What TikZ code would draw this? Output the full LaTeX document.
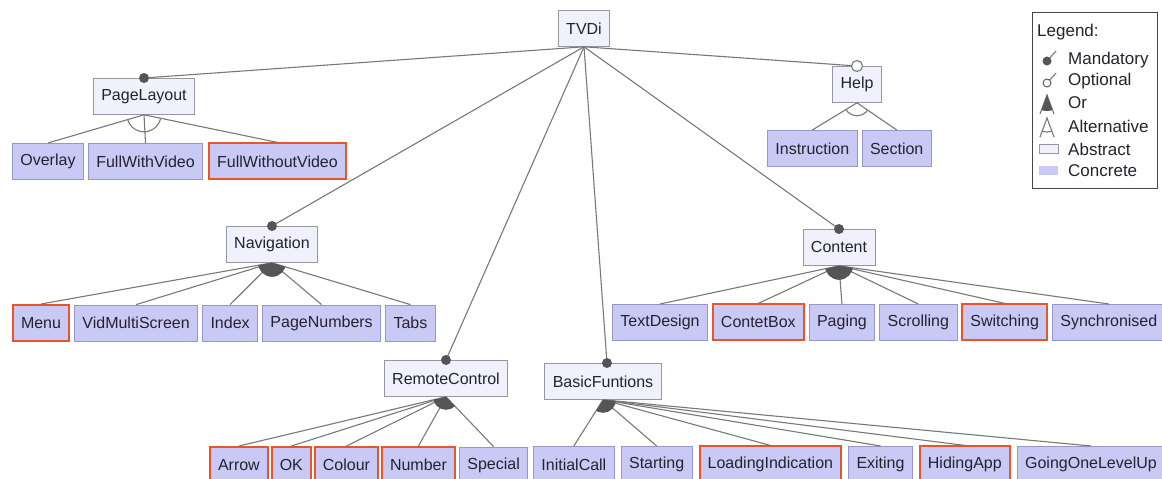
\documentclass[tikz,border=0pt]{standalone}
\usepackage{fontspec}
\setmainfont{Liberation Sans}
\definecolor{confill}{RGB}{201,201,246}
\definecolor{conline}{RGB}{150,150,200}
\definecolor{absfill}{RGB}{241,241,253}
\definecolor{absline}{RGB}{150,150,165}
\definecolor{selred}{RGB}{232,84,44}
\definecolor{linkgray}{RGB}{120,120,120}
\definecolor{dotgray}{RGB}{85,85,85}
\definecolor{txt}{RGB}{35,35,45}
\definecolor{legline}{RGB}{70,70,70}
\begin{document}
\begin{tikzpicture}[x=1pt,y=-1pt,
  feat/.style={draw, rectangle, minimum height=36pt, inner xsep=8pt, inner ysep=0pt,
    text=txt, font=\fontsize{16}{19}\selectfont, line width=0.8pt},
  abstractf/.style={feat, fill=absfill, draw=absline},
  concretef/.style={feat, fill=confill, draw=conline},
  chosen/.style={draw=selred, line width=2pt},
  link/.style={draw=linkgray, line width=1.1pt},
  legtext/.style={anchor=west, inner sep=0pt, text=txt, font=\fontsize{17}{20}\selectfont},
]
\useasboundingbox (0,0) rectangle (1162,479);

% ---------- feature boxes ----------
\node[abstractf, anchor=north] (tvdi) at (584,10) {TVDi};

\node[abstractf, anchor=north] (pagelayout) at (144,78) {PageLayout};
\node[concretef, anchor=north west] (overlay) at (12,143) {Overlay};
\node[concretef, anchor=west] (fullwithvideo) at ([xshift=4pt]overlay.east) {FullWithVideo};
\node[concretef, chosen, anchor=west] (fullwithoutvideo) at ([xshift=5pt]fullwithvideo.east) {FullWithoutVideo};

\node[abstractf, anchor=north] (help) at (857,66) {Help};
\node[concretef, anchor=north west] (instruction) at (767,130) {Instruction};
\node[concretef, anchor=west] (section) at ([xshift=4pt]instruction.east) {Section};

\node[abstractf, anchor=north] (navigation) at (272,226) {Navigation};
\node[concretef, chosen, anchor=north west] (menu) at (12,304) {Menu};
\node[concretef, anchor=west] (vidmulti) at ([xshift=4pt]menu.east) {VidMultiScreen};
\node[concretef, anchor=west] (index) at ([xshift=4pt]vidmulti.east) {Index};
\node[concretef, anchor=west] (pagenumbers) at ([xshift=4pt]index.east) {PageNumbers};
\node[concretef, anchor=west] (tabs) at ([xshift=4pt]pagenumbers.east) {Tabs};

\node[abstractf, anchor=north] (content) at (839,229) {Content};
\node[concretef, anchor=north west] (textdesign) at (612,304) {TextDesign};
\node[concretef, chosen, anchor=west] (contetbox) at ([xshift=4pt]textdesign.east) {ContetBox};
\node[concretef, anchor=west] (paging) at ([xshift=4pt]contetbox.east) {Paging};
\node[concretef, anchor=west] (scrolling) at ([xshift=4pt]paging.east) {Scrolling};
\node[concretef, chosen, anchor=west] (switching) at ([xshift=4pt]scrolling.east) {Switching};
\node[concretef, anchor=west] (synchronised) at ([xshift=4pt]switching.east) {Synchronised};

\node[abstractf, anchor=north] (remotecontrol) at (446,360) {RemoteControl};
\node[concretef, chosen, anchor=north west] (arrow) at (209,446) {Arrow};
\node[concretef, chosen, anchor=west] (ok) at ([xshift=2pt]arrow.east) {OK};
\node[concretef, chosen, anchor=west] (colour) at ([xshift=2pt]ok.east) {Colour};
\node[concretef, chosen, anchor=west] (number) at ([xshift=2pt]colour.east) {Number};
\node[concretef, anchor=west] (special) at ([xshift=3pt]number.east) {Special};

\node[abstractf, anchor=north] (basicfuntions) at (603,363) {BasicFuntions};
\node[concretef, anchor=north west] (initialcall) at (533,446) {InitialCall};
\node[concretef, anchor=west] (starting) at ([xshift=6pt]initialcall.east) {Starting};
\node[concretef, chosen, anchor=west] (loadingindication) at ([xshift=6pt]starting.east) {LoadingIndication};
\node[concretef, anchor=west] (exiting) at ([xshift=6pt]loadingindication.east) {Exiting};
\node[concretef, chosen, anchor=west] (hidingapp) at ([xshift=6pt]exiting.east) {HidingApp};
\node[concretef, anchor=west] (goingonelevelup) at ([xshift=6pt]hidingapp.east) {GoingOneLevelUp};

\coordinate (bftop) at ([xshift=4pt]basicfuntions.north);

% ---------- root connections ----------
\foreach \c in {pagelayout.north,navigation.north,remotecontrol.north,bftop,content.north,help.north}
  \draw[link] (tvdi.south) -- (\c);

% ---------- alternative groups ----------
\foreach \c in {overlay,fullwithvideo,fullwithoutvideo}
  \draw[link] (pagelayout.south) -- (\c.north);
\begin{scope}
  \clip (pagelayout.south) -- (overlay.north) -- (fullwithoutvideo.north) -- cycle;
  \draw[link] (pagelayout.south) circle (17pt);
\end{scope}

\foreach \c in {instruction,section}
  \draw[link] (help.south) -- (\c.north);
\begin{scope}
  \clip (help.south) -- (instruction.north) -- (section.north) -- cycle;
  \draw[link] (help.south) circle (13pt);
\end{scope}

% ---------- or groups ----------
\foreach \c in {menu,vidmulti,index,pagenumbers,tabs}
  \draw[link] (navigation.south) -- (\c.north);
\begin{scope}
  \clip (navigation.south) -- (menu.north) -- (tabs.north) -- cycle;
  \fill[dotgray] (navigation.south) circle (14pt);
\end{scope}

\foreach \c in {textdesign,contetbox,paging,scrolling,switching,synchronised}
  \draw[link] (content.south) -- (\c.north);
\begin{scope}
  \clip (content.south) -- (textdesign.north) -- (synchronised.north) -- cycle;
  \fill[dotgray] (content.south) circle (14pt);
\end{scope}

\foreach \c in {arrow,ok,colour,number,special}
  \draw[link] (remotecontrol.south) -- (\c.north);
\begin{scope}
  \clip (remotecontrol.south) -- (arrow.north) -- (special.north) -- cycle;
  \fill[dotgray] (remotecontrol.south) circle (13pt);
\end{scope}

\foreach \c in {initialcall,starting,loadingindication,exiting,hidingapp,goingonelevelup}
  \draw[link] (basicfuntions.south) -- (\c.north);
\begin{scope}
  \clip (basicfuntions.south) -- (initialcall.north) -- (goingonelevelup.north) -- cycle;
  \fill[dotgray] (basicfuntions.south) circle (13pt);
\end{scope}

% ---------- mandatory / optional markers ----------
\foreach \c in {pagelayout.north,navigation.north,remotecontrol.north,bftop,content.north}
  \fill[dotgray] (\c) circle (5pt);
\filldraw[fill=white, draw=linkgray, line width=1.1pt] (help.north) circle (5.5pt);

% ---------- legend ----------
\node[draw=legline, line width=1.3pt, fill=white, minimum width=125pt, minimum height=176pt,
      anchor=north west, inner sep=0pt] (legend) at (1032,12) {};
\node[legtext] (lgtitle) at (1037,32) {Legend:};
\node[legtext] (lgmand) at (1068,60) {Mandatory};
\node[legtext] (lgopt) at (1068,81) {Optional};
\node[legtext] (lgor) at (1068,103) {Or};
\node[legtext] (lgalt) at (1068,126) {Alternative};
\node[legtext] (lgabs) at (1068,149) {Abstract};
\node[legtext] (lgcon) at (1068,171) {Concrete};

\draw[link] (1047,61) -- (1056,51);
\fill[dotgray] (1047,61) circle (4.5pt);
\draw[link] (1047,83) -- (1056,73);
\filldraw[fill=white, draw=dotgray, line width=0.9pt] (1047,83) circle (4pt);

\draw[link] (1040,114) -- (1047,95) -- (1054,114);
\begin{scope}
  \clip (1047,95) -- (1039,117) -- (1055,117) -- cycle;
  \fill[dotgray] (1047,95) circle (16pt);
\end{scope}
\draw[link] (1040,137) -- (1047,118) -- (1054,137);
\begin{scope}
  \clip (1047,118) -- (1039,140) -- (1055,140) -- cycle;
  \draw[link] (1047,118) circle (14pt);
\end{scope}

\filldraw[fill=absfill, draw=absline, line width=0.7pt] (1039,144) rectangle (1058,153);
\fill[confill] (1039,166) rectangle (1058,175);
\end{tikzpicture}
\end{document}
